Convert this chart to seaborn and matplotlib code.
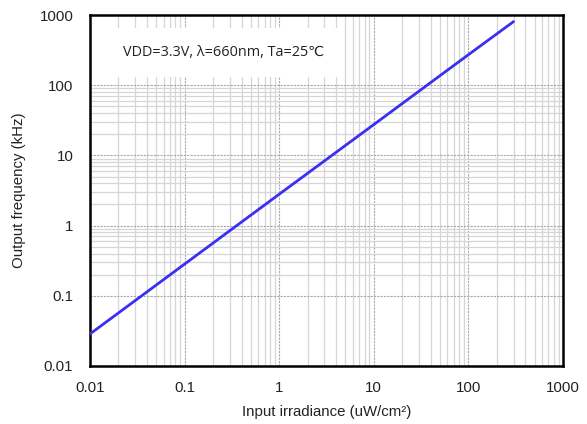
import numpy as np
import pandas as pd
import matplotlib
matplotlib.use("Agg")
import matplotlib.pyplot as plt
import matplotlib.ticker as mticker
import seaborn as sns

# ─── DATA ───────────────────────────────────────────────────────────────────
irradiance = [0.01, 0.1, 1, 10, 100, 300]          # uW/cm2
frequency  = [0.0286, 0.283, 2.8, 27.5, 272, 805]   # kHz

x_ticks = [0.01, 0.1, 1, 10, 100, 1000]
y_ticks = [0.01, 0.1, 1, 10, 100, 1000]
# minor horizontal grid only shown for the middle decades in the source chart
y_minor_decades = [0.1, 1, 10]

note_text = "VDD=3.3V, λ=660nm, Ta=25℃"
x_label = "Input irradiance (uW/cm²)"
y_label = "Output frequency (kHz)"

# ─── STYLE ──────────────────────────────────────────────────────────────────
LINE_COLOR  = "#3b2ff0"
MAJOR_GRID  = "#a8a8a8"
MINOR_GRID  = "#d6d6d6"
TEXT_COLOR  = "#222222"
# ─────────────────────────────────────────────────────────────────────────────


def main():
    sns.set_theme(style="white")
    plt.rcParams["font.family"] = ["Liberation Sans", "DejaVu Sans"]

    df = pd.DataFrame({"irradiance": irradiance, "frequency": frequency})

    fig = plt.figure(figsize=(5.87, 4.24), dpi=100)
    ax = fig.add_axes([0.1533, 0.1368, 0.8058, 0.8278])

    sns.lineplot(data=df, x="irradiance", y="frequency", ax=ax,
                 color=LINE_COLOR, linewidth=2.0, zorder=5)

    ax.set_xscale("log")
    ax.set_yscale("log")
    ax.set_xlim(x_ticks[0], x_ticks[-1])
    ax.set_ylim(y_ticks[0], y_ticks[-1])

    fmt = mticker.FuncFormatter(lambda v, _: f"{v:g}")
    ax.xaxis.set_major_locator(mticker.FixedLocator(x_ticks))
    ax.yaxis.set_major_locator(mticker.FixedLocator(y_ticks))
    ax.xaxis.set_major_formatter(fmt)
    ax.yaxis.set_major_formatter(fmt)

    ax.xaxis.set_minor_locator(mticker.LogLocator(base=10, subs=np.arange(2, 10), numticks=30))
    y_minor = [m * d for d in y_minor_decades for m in range(2, 10)]
    ax.yaxis.set_minor_locator(mticker.FixedLocator(y_minor))
    ax.xaxis.set_minor_formatter(mticker.NullFormatter())
    ax.yaxis.set_minor_formatter(mticker.NullFormatter())

    ax.grid(which="minor", color=MINOR_GRID, linewidth=0.9, linestyle="-")
    ax.grid(which="major", color=MAJOR_GRID, linewidth=0.8, linestyle=(0, (2, 1)))
    ax.set_axisbelow(True)

    ax.tick_params(which="both", length=0)
    ax.tick_params(axis="y", pad=12, labelsize=10.8, colors=TEXT_COLOR)
    ax.tick_params(axis="x", pad=11, labelsize=10.8, colors=TEXT_COLOR)

    for s in ax.spines.values():
        s.set_color("black")
        s.set_linewidth(1.8)

    ax.set_xlabel(x_label, fontsize=10.8, labelpad=7, color=TEXT_COLOR)
    ax.set_ylabel(y_label, fontsize=10.8, labelpad=10, color=TEXT_COLOR)

    ax.text(0.07, 0.893, note_text, transform=ax.transAxes,
            fontsize=10.4, family=["Open Sans", "DejaVu Sans"], color=TEXT_COLOR,
            va="center", ha="left", zorder=4,
            bbox=dict(boxstyle="square,pad=1.2", fc="white", ec="none"))

    fig.savefig("out.png", dpi=100)
    plt.close(fig)


if __name__ == "__main__":
    main()
